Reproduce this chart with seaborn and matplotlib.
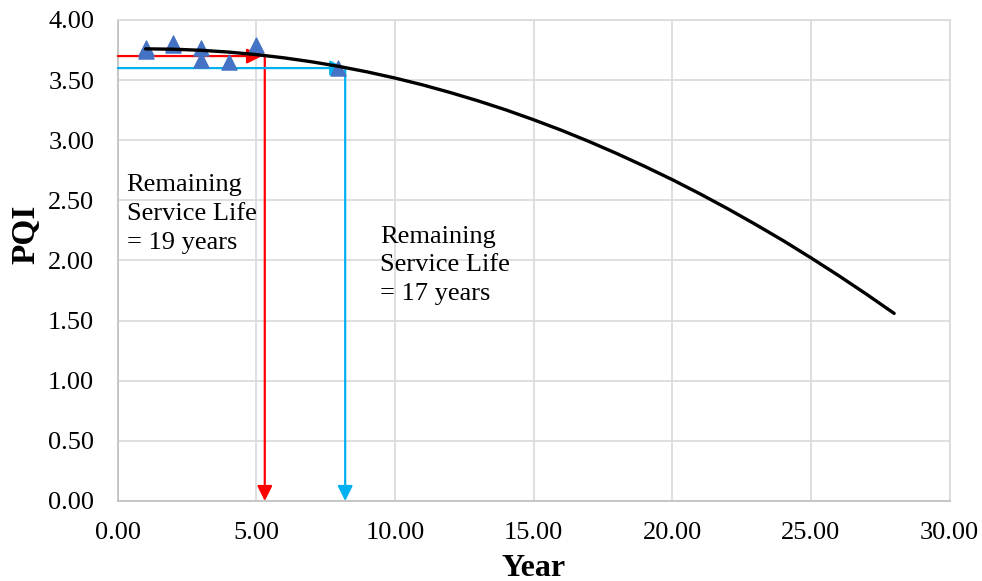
import numpy as np
import pandas as pd
import seaborn as sns
import matplotlib.pyplot as plt

# observed PQI values
obs_year = [1, 1, 2, 2, 3, 3, 4, 5, 7.95]
obs_pqi = [3.77, 3.74, 3.81, 3.79, 3.77, 3.67, 3.65, 3.79, 3.60]

# fitted deterioration curve
fit_year = list(range(1, 29))
fit_pqi = [3.760, 3.757, 3.748, 3.733, 3.712, 3.685, 3.652, 3.613, 3.568, 3.517,
           3.460, 3.396, 3.327, 3.252, 3.170, 3.083, 2.989, 2.889, 2.783, 2.672,
           2.554, 2.430, 2.300, 2.165, 2.022, 1.874, 1.720, 1.560]

# remaining service life markers
red_year, red_pqi = 5.3, 3.70
blue_year, blue_pqi = 8.2, 3.60
red_text = "Remaining\nService Life\n= 19 years"
blue_text = "Remaining\nService Life\n= 17 years"

obs = pd.DataFrame({'Year': obs_year, 'PQI': obs_pqi})
fit = pd.DataFrame({'Year': fit_year, 'PQI': fit_pqi})

sns.set_style('white')
plt.rcParams['font.family'] = ['Liberation Serif', 'DejaVu Serif']
plt.rcParams['text.color'] = 'black'
plt.rcParams['axes.labelcolor'] = 'black'
plt.rcParams['xtick.color'] = 'black'
plt.rcParams['ytick.color'] = 'black'

fig = plt.figure(figsize=(9.82, 5.81), dpi=100)
ax = fig.add_axes([0.120, 0.1377, 0.847, 0.8279])

ax.set_xlim(0, 30)
ax.set_ylim(0, 4)
ax.set_xticks(np.arange(0, 30.1, 5))
ax.set_yticks(np.arange(0, 4.01, 0.5))
ax.set_xticklabels([f'{v:.2f}' for v in np.arange(0, 30.1, 5)])
ax.set_yticklabels([f'{v:.2f}' for v in np.arange(0, 4.01, 0.5)])
ax.grid(True, color='#d9d9d9', linewidth=1.2)
ax.set_axisbelow(True)
for s in ax.spines.values():
    s.set_color('#d9d9d9')
    s.set_linewidth(1.2)
ax.spines['left'].set_color('#bfbfbf')
ax.spines['bottom'].set_color('#bfbfbf')
ax.tick_params(labelsize=19, length=0)
ax.tick_params(axis='y', pad=17)
ax.tick_params(axis='x', pad=15)

# arrows
arrow_kw = dict(arrowstyle='-|>,head_length=0.6,head_width=0.3', mutation_scale=15,
                linewidth=1.6, shrinkA=0, shrinkB=0)
ax.annotate('', xy=(red_year - 0.1, red_pqi), xytext=(0, red_pqi),
            arrowprops=dict(color='#ff0000', **arrow_kw))
ax.annotate('', xy=(red_year, 0), xytext=(red_year, red_pqi),
            arrowprops=dict(color='#ff0000', **arrow_kw))
ax.annotate('', xy=(blue_year, blue_pqi), xytext=(0, blue_pqi),
            arrowprops=dict(color='#00b0f0', **arrow_kw))
ax.annotate('', xy=(blue_year, 0), xytext=(blue_year, blue_pqi),
            arrowprops=dict(color='#00b0f0', **arrow_kw))

sns.scatterplot(data=obs, x='Year', y='PQI', marker='^', s=120,
                color='#4472c4', edgecolor='#4472c4', ax=ax, zorder=4)
sns.lineplot(data=fit, x='Year', y='PQI', color='black', linewidth=2.4,
             ax=ax, zorder=5)

ax.text(0.32, 2.72, red_text, fontsize=19, va='top', ha='left', linespacing=1.4)
ax.text(9.45, 2.29, blue_text, fontsize=19, va='top', ha='left', linespacing=1.4)

ax.set_xlabel('Year', fontsize=23, fontweight='bold', va='center')
ax.set_ylabel('PQI', fontsize=24, fontweight='bold', va='center')
ax.xaxis.set_label_coords(0.5, -0.14)
ax.yaxis.set_label_coords(-0.11, 0.555)

fig.savefig('out.png', dpi=100)
